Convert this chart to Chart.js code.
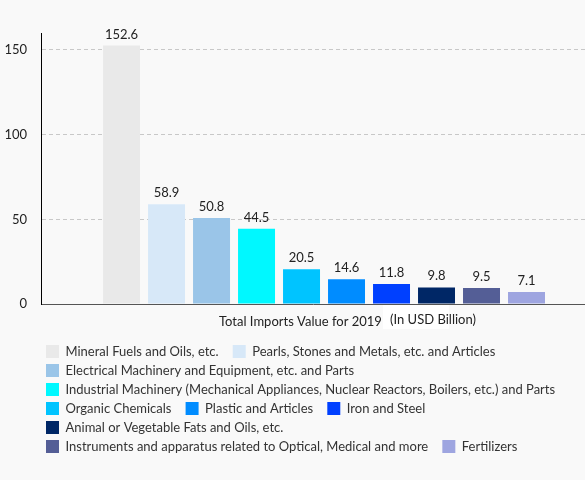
<!DOCTYPE html>
<html lang="en">
<head>
    <meta charset="UTF-8">
    <title>Total Imports Value for 2019</title>
    <script src="https://cdn.jsdelivr.net/npm/chart.js"></script>
    <style>
        html, body { margin: 0; padding: 0; background: #f9f9f9; }
        #wrap { width: 585px; height: 480px; position: relative; }
    </style>
</head>
<body>
    <div id="wrap"><canvas id="imports-chart"></canvas></div>

    <script>
        const categories = [
            'Mineral Fuels and Oils, etc.',
            'Pearls, Stones and Metals, etc. and Articles',
            'Electrical Machinery and Equipment, etc. and Parts',
            'Industrial Machinery (Mechanical Appliances, Nuclear Reactors, Boilers, etc.) and Parts',
            'Organic Chemicals',
            'Plastic and Articles',
            'Iron and Steel',
            'Animal or Vegetable Fats and Oils, etc.',
            'Instruments and apparatus related to Optical, Medical and more',
            'Fertilizers'
        ];
        const values = [152.6, 58.9, 50.8, 44.5, 20.5, 14.6, 11.8, 9.8, 9.5, 7.1];
        const colors = ['#e9e9e9', '#d7e8f8', '#9ac5e8', '#00f8ff', '#00c4ff',
                        '#008cff', '#0040ff', '#002766', '#545e96', '#9ea5e0'];
        const yTicks = [0, 50, 100, 150];
        const xTitle = 'Total Imports Value for 2019';
        const unitNote = '(In USD Billion)';

        // value labels above every bar
        const valueLabels = {
            id: 'valueLabels',
            afterDatasetsDraw(chart) {
                const ctx = chart.ctx;
                const meta = chart.getDatasetMeta(0);
                ctx.save();
                ctx.font = '13px Lato';
                ctx.fillStyle = '#222';
                ctx.textAlign = 'center';
                ctx.textBaseline = 'alphabetic';
                meta.data.forEach((bar, i) => {
                    ctx.fillText(values[i].toFixed(1), bar.x, bar.y - 7);
                });
                ctx.restore();
            }
        };

        // caption under the x axis, legend nudged to line up with the boxes
        const caption = {
            id: 'caption',
            afterLayout(chart) {
                chart.legend.left -= 1;
                chart.legend.right -= 1;
            },
            afterDraw(chart) {
                const ctx = chart.ctx;
                const area = chart.chartArea;
                ctx.save();
                ctx.fillStyle = '#ffffff';
                ctx.fillRect(area.left + 342, area.bottom + 1, 66, 24);
                ctx.fillStyle = '#222';
                ctx.textBaseline = 'alphabetic';
                ctx.font = '13px Lato';
                ctx.fillText(xTitle, area.left + 178, area.bottom + 22);
                ctx.fillText(unitNote, area.left + 349, area.bottom + 20);
                ctx.restore();
            }
        };

        Chart.defaults.font.family = 'Lato';
        Chart.defaults.font.size = 13;
        Chart.defaults.color = '#222';

        const ctx = document.getElementById('imports-chart').getContext('2d');
        new Chart(ctx, {
            type: 'bar',
            data: {
                datasets: [{
                    data: values.map((v, i) => ({ x: i, y: v })),
                    backgroundColor: colors,
                    borderWidth: 0,
                    barPercentage: 0.822,
                    categoryPercentage: 1
                }]
            },
            options: {
                responsive: true,
                maintainAspectRatio: false,
                animation: false,
                layout: { padding: { top: 33, left: 5, right: 0, bottom: 17 } },
                scales: {
                    x: {
                        type: 'linear',
                        min: -1.79,
                        max: 10.3,
                        grid: { display: false },
                        ticks: { display: false },
                        border: { color: '#555', width: 1 },
                        afterBuildTicks: (scale) => { scale.ticks = []; },
                        afterFit: (scale) => { scale.height = 35; }
                    },
                    y: {
                        min: 0,
                        max: 160,
                        afterBuildTicks: (scale) => {
                            scale.ticks = yTicks.map(v => ({ value: v }));
                        },
                        afterFit: (scale) => { scale.width = 36; },
                        ticks: { padding: 14, color: '#222', font: { size: 13 } },
                        grid: { color: '#c8c8c8', drawTicks: false },
                        border: { color: '#000', width: 1, dash: [4, 3] }
                    }
                },
                plugins: {
                    tooltip: { enabled: false },
                    legend: {
                        position: 'bottom',
                        align: 'start',
                        fullSize: false,
                        labels: {
                            boxWidth: 13,
                            boxHeight: 13,
                            padding: 6,
                            color: '#333',
                            font: { size: 13 },
                            // trailing en + thin space widens the gap between items
                            generateLabels: () => categories.map((name, i) => ({
                                text: name + '\u2002\u2009',
                                fillStyle: colors[i],
                                strokeStyle: colors[i],
                                lineWidth: 0,
                                hidden: false,
                                index: i,
                                fontColor: '#333'
                            }))
                        }
                    }
                }
            },
            plugins: [valueLabels, caption]
        });
    </script>
</body>
</html>
